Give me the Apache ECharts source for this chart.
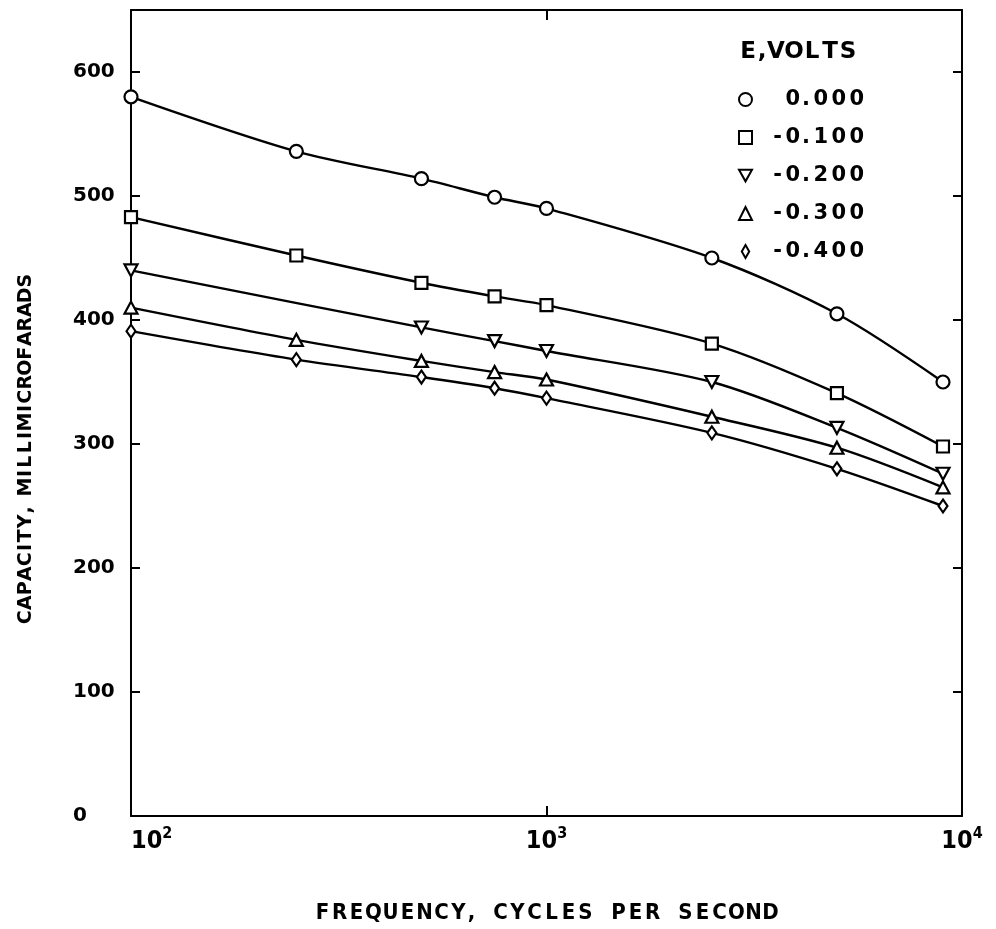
<!DOCTYPE html>
<html>
<head>
<meta charset="utf-8">
<script src="https://cdn.jsdelivr.net/npm/echarts@6/dist/echarts.min.js"></script>
<style>
  html, body { margin: 0; padding: 0; background: #fff; }
  #chart { width: 996px; height: 929px; }
</style>
</head>
<body>
<div id="chart"></div>
<script>
// Frequencies (cycles per second) at which the capacity was measured
const frequencies = [100, 250, 500, 750, 1000, 2500, 5000, 9000];

// Electrode potential of each curve, volts
const potentials = ['0.000', '-0.100', '-0.200', '-0.300', '-0.400'];

// Capacity in millimicrofarads for each potential
const cap000 = [580, 536, 514, 499, 490, 450, 405, 350];
const cap100 = [483, 452, 430, 419, 412, 381, 341, 298];
const cap200 = [440, null, 394, 383, 375, 350, 313, 276];
const cap300 = [410, 384, 367, 358, 352, 322, 297, 265];
const cap400 = [391, 368, 354, 345, 337, 309, 280, 250];

// Axis ticks
const yTicks = [0, 100, 200, 300, 400, 500, 600];

const capacities = [cap000, cap100, cap200, cap300, cap400];

const FONT = '"DejaVu Sans", "Noto Sans", sans-serif';
const FONT_NARROW = '"DejaVu Sans Condensed", "Liberation Sans Narrow", "DejaVu Sans", sans-serif';

// Plot markers (hollow) and the matching legend icons
const downTri = 'path://M0,0L10,0L5,9Z';
const symbols = ['circle', 'rect', downTri, 'triangle', 'diamond'];
const symbolSizes = [13, 12, [13, 12], [13, 12], [9, 13]];
const legendIcons = ['circle', 'rect', downTri, 'triangle', 'path://M4,0L8,7L4,14L0,7Z'];

// Build a letter-spaced rich string: every character sits in its own fixed-width box
function spaced(text, cls) {
  return text.split('').map(ch => '{' + cls(ch) + '|' + ch + '}').join('');
}
function box(width, font, size, weight, align) {
  return { width: width, fontFamily: font, fontSize: size, fontWeight: weight, color: '#000', align: align || 'center' };
}

const legendRich = {
  d: box(18, FONT, 21, 'bold', 'right'),
  p: box(10, FONT, 21, 'bold', 'right'),
  m: box(20, FONT, 21, 'bold', 'right')
};
const legendCls = ch => ch === '.' ? 'p' : (ch === '-' ? 'm' : 'd');

const titleRich = {
  d: box(18, FONT, 23, 'bold'),
  p: box(10, FONT, 23, 'bold')
};
const titleCls = ch => ch === ',' ? 'p' : 'd';

const xNameRich = {
  d: box(17, FONT_NARROW, 22, 'bold'),
  p: box(9, FONT_NARROW, 22, 'bold'),
  s: box(16, FONT_NARROW, 22, 'bold')
};
const xNameCls = ch => ch === ',' ? 'p' : (ch === ' ' ? 's' : 'd');

const yNameRich = {
  d: box(14.5, FONT, 19, 'bold'),
  w: box(18, FONT, 19, 'bold'),
  k: box(9, FONT, 19, 'bold'),
  p: box(8, FONT, 19, 'bold'),
  s: box(10, FONT, 19, 'bold')
};
const yNameCls = ch => ch === 'M' ? 'w' : ch === 'I' ? 'k' : ch === ',' ? 'p' : ch === ' ' ? 's' : 'd';

const axisLine = { show: true, onZero: false, lineStyle: { color: '#000', width: 2 } };
const tickStyle = { color: '#000', width: 2 };

const series = potentials.map((name, i) => ({
  name: name,
  type: 'line',
  data: frequencies.map((f, j) => [f, capacities[i][j]]),
  smooth: 0.3,
  connectNulls: true,
  symbol: symbols[i],
  symbolSize: symbolSizes[i],
  showAllSymbol: true,
  lineStyle: { color: '#000', width: 2.4 },
  itemStyle: { color: '#fff', borderColor: '#000', borderWidth: 2.2 },
  emphasis: { disabled: true },
  z: 3
}));

const chart = echarts.init(document.getElementById('chart'), null, { renderer: 'canvas' });
chart.setOption({
  animation: false,
  backgroundColor: '#fff',
  grid: { left: 131, right: 34, top: 10, bottom: 112, containLabel: false },
  title: {
    text: spaced('E,VOLTS', titleCls),
    left: 739,
    top: 41,
    padding: 0,
    textStyle: { rich: titleRich }
  },
  legend: {
    orient: 'vertical',
    left: 738,
    top: 89,
    padding: 0,
    itemWidth: 13,
    itemHeight: 13,
    itemGap: 17,
    selectedMode: false,
    data: potentials.map((name, i) => ({ name: name, icon: legendIcons[i] })),
    formatter: name => spaced(name, legendCls),
    textStyle: { width: 107, lineHeight: 21, rich: legendRich }
  },
  xAxis: [
    {
      type: 'log',
      logBase: 10,
      min: 100,
      max: 10000,
      position: 'bottom',
      axisLine: axisLine,
      axisTick: { show: true, inside: true, length: 10, lineStyle: tickStyle },
      minorTick: { show: false },
      splitLine: { show: false },
      axisLabel: {
        margin: 10,
        alignMinLabel: 'left',
        formatter: v => '{b|10}{s|' + Math.round(Math.log10(v)) + '}',
        rich: {
          b: { fontFamily: FONT_NARROW, fontSize: 25, fontWeight: 'bold', color: '#000' },
          s: { fontFamily: FONT_NARROW, fontSize: 16, fontWeight: 'bold', color: '#000', padding: [0, 0, 14, 0] }
        }
      },
      name: spaced('FREQUENCY, CYCLES PER SECOND', xNameCls),
      nameLocation: 'middle',
      nameGap: 86,
      nameTextStyle: { rich: xNameRich }
    },
    {
      type: 'log',
      logBase: 10,
      min: 100,
      max: 10000,
      position: 'top',
      axisLine: axisLine,
      axisTick: { show: true, inside: true, length: 10, lineStyle: tickStyle },
      minorTick: { show: false },
      splitLine: { show: false },
      axisLabel: { show: false }
    }
  ],
  yAxis: [
    {
      type: 'value',
      min: 0,
      max: 650,
      position: 'left',
      axisLine: axisLine,
      axisTick: { show: true, inside: true, length: 9, lineStyle: tickStyle, customValues: yTicks },
      splitLine: { show: false },
      axisLabel: {
        margin: 58,
        align: 'left',
        customValues: yTicks,
        fontFamily: FONT,
        fontSize: 20,
        fontWeight: 'bold',
        color: '#000'
      },
      name: spaced('CAPACITY, MILLIMICROFARADS', yNameCls),
      nameLocation: 'middle',
      nameGap: 95,
      nameRotate: 90,
      nameTextStyle: { rich: yNameRich, padding: [0, 72, 0, 0] }
    },
    {
      type: 'value',
      min: 0,
      max: 650,
      position: 'right',
      axisLine: axisLine,
      axisTick: { show: true, inside: true, length: 9, lineStyle: tickStyle, customValues: yTicks },
      splitLine: { show: false },
      axisLabel: { show: false }
    }
  ],
  series: series
});
</script>
</body>
</html>
